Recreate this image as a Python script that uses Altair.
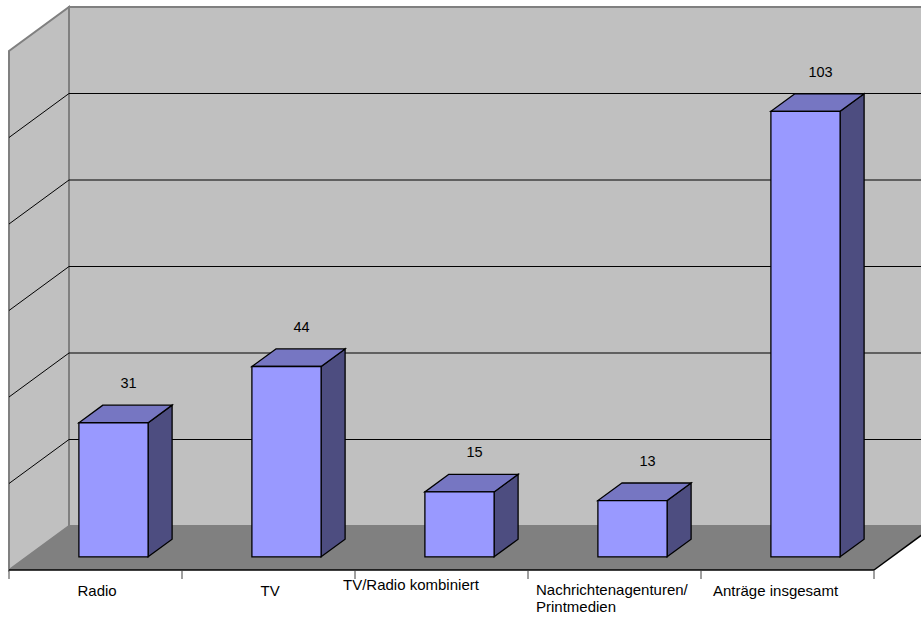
import altair as alt
import pandas as pd

# ---- data -------------------------------------------------------------
categories = [
    "Radio",
    "TV",
    "TV/Radio kombiniert",
    "Nachrichtenagenturen/\nPrintmedien",
    "Anträge insgesamt",
]
values = [31, 44, 15, 13, 103]
grid_levels = [20, 40, 60, 80, 100]
y_top = 120

# ---- oblique 3-D projection layout -----------------------------------
W, H = 921, 619
ORIGIN_X, ORIGIN_Y = 9, 570        # front-left corner of the floor (px)
SLOT_PX = 173                      # width of one category slot (px)
UNIT_PX = 4.325                    # px per value unit
DEPTH_X_PX, DEPTH_Y_PX = 60, 44    # full depth of the floor (px)
K = DEPTH_X_PX / SLOT_PX           # depth shift in slot units
C = DEPTH_Y_PX / UNIT_PX           # depth shift in value units
D0, D1 = 0.3, 0.7                  # front / back of the bars in depth
BAR_L, BAR_R = 0.3, 0.7            # bar edges inside a slot
n = len(categories)

x_scale = alt.Scale(domain=[-ORIGIN_X / SLOT_PX, (W - ORIGIN_X) / SLOT_PX], nice=False, zero=False)
y_scale = alt.Scale(domain=[(ORIGIN_Y - H) / UNIT_PX, ORIGIN_Y / UNIT_PX], nice=False, zero=False)


def X(f="x"):
    return alt.X(f"{f}:Q", scale=x_scale, axis=None)


def Y(f="y"):
    return alt.Y(f"{f}:Q", scale=y_scale, axis=None, stack=None)


FONT = "Liberation Sans"
WALL = "#C0C0C0"
WALL_EDGE = "#808080"
FLOOR = "#808080"
FRONT, TOP, SIDE = "#9999FF", "#7676C2", "#4D4D80"

# ---- walls & floor ---------------------------------------------------
back_df = pd.DataFrame({"x": [K], "x2": [n + 1 + K], "y": [C], "y2": [C + y_top]})
back_wall = alt.Chart(back_df).mark_rect(fill=WALL, stroke=WALL_EDGE, strokeWidth=2).encode(
    x=X(), x2="x2:Q", y=Y(), y2="y2:Q"
)

left_df = pd.DataFrame({"x": [0, K], "y": [0, C], "y2": [y_top, y_top + C]})
left_wall = alt.Chart(left_df).mark_area(
    orient="vertical", fill=WALL, stroke=WALL_EDGE, strokeWidth=2
).encode(x=X(), y=Y(), y2="y2:Q")

floor_df = pd.DataFrame({"y": [0, C], "x": [0, K], "x2": [n, n + K]})
floor = alt.Chart(floor_df).mark_area(orient="horizontal", fill=FLOOR).encode(
    y=Y(), x=X(), x2="x2:Q"
)

grid_back_df = pd.DataFrame({"y": [C + v for v in grid_levels], "x": K, "x2": n + 1 + K})
grid_back = alt.Chart(grid_back_df).mark_rule(color="black", strokeWidth=1).encode(
    x=X(), x2="x2:Q", y=Y()
)

grid_left_df = pd.DataFrame({
    "x": [0.0] * len(grid_levels),
    "x2": [K] * len(grid_levels),
    "y": grid_levels,
    "y2": [v + C for v in grid_levels],
})
grid_left = alt.Chart(grid_left_df).mark_rule(color="black", strokeWidth=1).encode(
    x=X(), x2="x2:Q", y=Y(), y2="y2:Q"
)

edge_df = pd.DataFrame({"x": [0, n], "x2": [n, n + K], "y": [0, 0], "y2": [0, C]})
floor_edges = alt.Chart(edge_df).mark_rule(color="black", strokeWidth=1.5).encode(
    x=X(), x2="x2:Q", y=Y(), y2="y2:Q"
)

tick_df = pd.DataFrame({"x": list(range(n + 1)), "y": 0.0, "y2": -9 / UNIT_PX})
ticks = alt.Chart(tick_df).mark_rule(color="#404040", strokeWidth=1).encode(
    x=X(), y=Y(), y2="y2:Q"
)

# ---- bars (front, top and side faces) --------------------------------
front_rows, top_rows, side_rows, value_rows = [], [], [], []
for i, (cat, v) in enumerate(zip(categories, values)):
    front_rows.append({
        "cat": cat, "x": i + BAR_L + K * D0, "x2": i + BAR_R + K * D0,
        "y": C * D0, "y2": v + C * D0,
    })
    for d in (D0, D1):
        top_rows.append({
            "cat": cat, "y": v + C * d, "x": i + BAR_L + K * d, "x2": i + BAR_R + K * d,
        })
        side_rows.append({
            "cat": cat, "x": i + BAR_R + K * d, "y": C * d, "y2": v + C * d,
        })
    value_rows.append({
        "label": str(v), "x": i + 0.5 + K * (D0 + D1) / 2, "y": v + C * D1,
    })

bar_front = alt.Chart(pd.DataFrame(front_rows)).mark_rect(
    fill=FRONT, stroke="black", strokeWidth=1.3
).encode(x=X(), x2="x2:Q", y=Y(), y2="y2:Q")

bar_top = alt.Chart(pd.DataFrame(top_rows)).mark_area(
    orient="horizontal", fill=TOP, stroke="black", strokeWidth=1.3
).encode(y=Y(), x=X(), x2="x2:Q", detail="cat:N")

bar_side = alt.Chart(pd.DataFrame(side_rows)).mark_area(
    orient="vertical", fill=SIDE, stroke="black", strokeWidth=1.3
).encode(x=X(), y=Y(), y2="y2:Q", detail="cat:N")

value_labels = alt.Chart(pd.DataFrame(value_rows)).mark_text(
    font=FONT, fontSize=14.5, color="black", baseline="middle", align="center", dx=3, dy=-21
).encode(x=X(), y=Y(), text="label:N")

# ---- category labels (left-aligned, offset from each slot's left tick) --
label_nudge = {  # (dx from slot's left tick, drop below floor edge) in px
    "Radio": (68.5, 13.5),
    "TV": (78.5, 13.5),
    "TV/Radio kombiniert": (-12, 7.5),
    "Nachrichtenagenturen/\nPrintmedien": (8, 13),
    "Anträge insgesamt": (12, 13.5),
}
cat_rows = []
for i, cat in enumerate(categories):
    dx, drop = label_nudge[cat]
    cat_rows.append({"label": cat, "x": i + dx / SLOT_PX, "y": -drop / UNIT_PX})

cat_labels = alt.Chart(pd.DataFrame(cat_rows)).mark_text(
    font=FONT, fontSize=15, color="black", baseline="top", align="left",
    lineBreak="\n", lineHeight=17,
).encode(x=X(), y=Y(), text="label:N")

chart = alt.layer(
    back_wall, left_wall, floor, grid_back, grid_left, floor_edges, ticks,
    bar_side, bar_top, bar_front, value_labels, cat_labels,
).properties(
    width=W, height=H, padding=0, autosize=alt.AutoSizeParams(type="none"),
    background="white",
).configure_view(stroke=None)

chart.save("out.html", embed_options={"renderer": "svg", "actions": False})
